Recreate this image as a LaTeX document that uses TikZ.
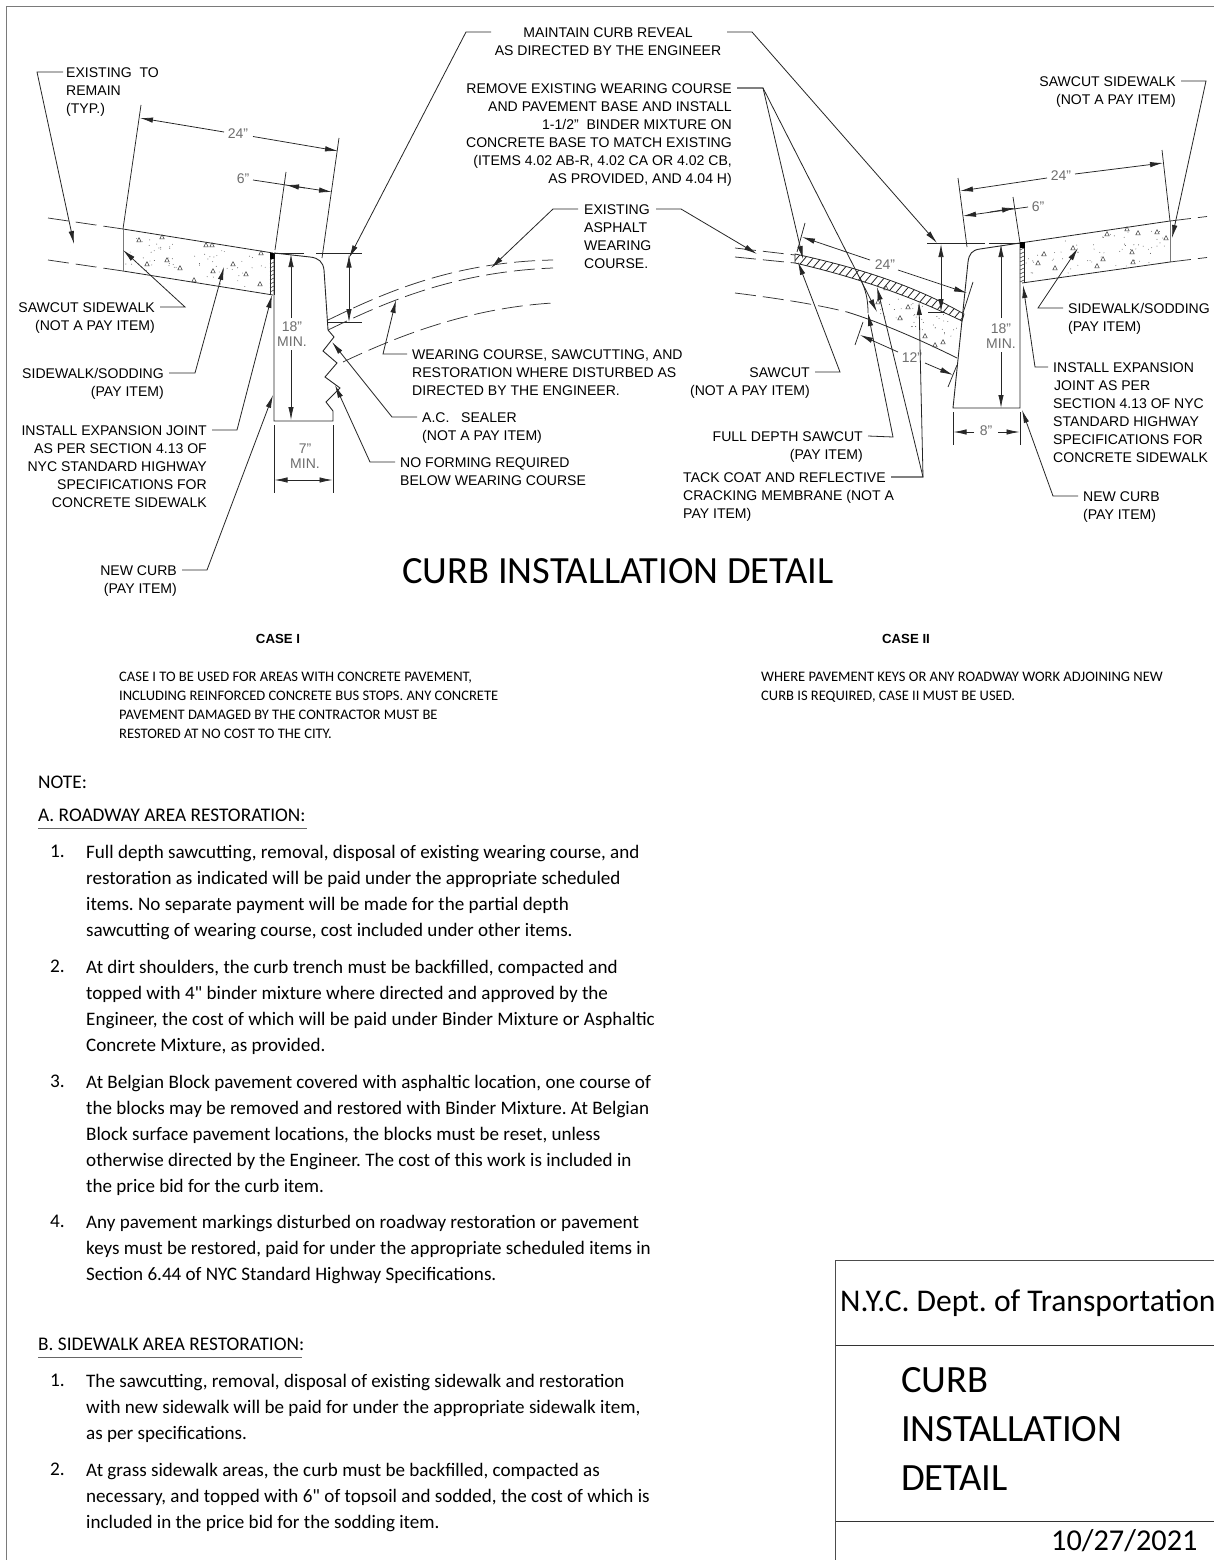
\documentclass[tikz,border=0pt]{standalone}
\usepackage{fontspec}
\setmainfont{Liberation Sans}
\newfontfamily\calib{Carlito}
\usetikzlibrary{arrows.meta}
\frenchspacing
\definecolor{dimgrey}{HTML}{6E6E6E}
\definecolor{framegrey}{HTML}{7A7A7A}
\tikzset{
  >={Latex[length=13pt,width=5.4pt]},
  ln/.style={line width=0.8pt,black!85},
  dimline/.style={line width=0.75pt,black!85},
  greyline/.style={line width=0.9pt,framegrey},
  dashln/.style={line width=0.75pt,black!80,dash pattern=on 21pt off 7pt},
  lab/.style={inner sep=0pt,yshift=-1pt,font=\fontsize{14.05}{18}\selectfont,text=black},
  labl/.style={lab,anchor=north west,align=left},
  labr/.style={lab,anchor=north east,align=right},
  labc/.style={lab,anchor=north,align=center},
  dimtxt/.style={inner sep=0pt,font=\fontsize{14}{16}\selectfont,text=dimgrey,align=center},
  body/.style={inner sep=0pt,anchor=north west,align=left,font=\calib\fontsize{19.08}{26}\selectfont,text=black},
  small/.style={inner sep=0pt,anchor=north west,yshift=-1pt,align=left,font=\calib\fontsize{14.53}{19}\selectfont,text=black},
  head/.style={inner sep=0pt,anchor=north west,font=\calib\fontsize{19.3}{26}\selectfont,text=black},
  casehd/.style={inner sep=0pt,font=\bfseries\fontsize{13.2}{15}\selectfont},
  tb/.style={inner sep=0pt,anchor=west,font=\calib\fontsize{31.6}{40}\selectfont,text=black},
  tbd/.style={inner sep=0pt,anchor=west,font=\calib\fontsize{30.3}{40}\selectfont,text=black},
  tbig/.style={inner sep=0pt,anchor=north west,align=left,font=\calib\fontsize{38.6}{49}\selectfont,text=black},
}
\newcommand{\tri}[2]{\draw[line width=0.5pt,black!75] (#1-2.2,#2+1.8) -- (#1,#2-2.4) -- (#1+2.2,#2+1.8) -- cycle;}
\begin{document}
\begin{tikzpicture}[x=1pt,y=-1pt]
\useasboundingbox (0,0) rectangle (1214,1560);
\fill[white] (0,0) rectangle (1214,1560);
% frame
\draw[greyline] (6,1560) -- (6,6) -- (1214,6);

% ===== CASE I drawing =====
% sidewalk
\draw[ln] (123,229) -- (273,253);
\draw[ln] (123,271) -- (273,295);
\draw[greyline] (123,229) -- (123,271);
\draw[dashln] (48,218) -- (123,229);
\draw[dashln] (48,260) -- (123,271);
\foreach \x/\y in {139/240,162/237,206/245,212/245,261/253,147/264,167/260,180/268,194/280,213/271,233/264,246/274,260/284}{\tri{\x}{\y}}
\pgfmathsetseed{11}
\foreach \i in {1,...,60}{\pgfmathsetmacro\t{rnd}\pgfmathsetmacro\u{rnd}
 \fill[black!70] ({125+145*\t},{234+24*\t+36*\u}) circle (0.45pt);}
% joint
\draw[ln] (270,256) -- (270,295); \draw[ln] (274,253) -- (274,295);
\foreach \y in {260,264,...,294}{\draw[line width=0.5pt,black!80] (270,\y) -- (274,\y-2);}
\fill[black] (270,253) rectangle (275,259);
% curb
\draw[line width=0.9pt,black!85] (274,253) -- (274,421) -- (333,421) -- (333,411) -- (326,402) -- (340,388) -- (325,377) -- (337,363) -- (323,351) -- (334,337) -- (328,330) -- (324,270) .. controls (323,262) and (319,258) .. (310,257) -- (274,253);
% ext lines
\draw[dimline] (274,253) -- (304,253) (316,253) -- (362,253) (328,322) -- (362,322);
\draw[dimline] (274,425) -- (274,493) (333,425) -- (333,493);
% reveal dim
\draw[dimline,->] (349,285) -- (349,254.5);
\draw[dimline,->] (349,285) -- (349,322);
% 18 dim
\draw[dimline,->] (291,318) -- (291,254);
\draw[dimline,->] (291,350) -- (291,420);
\node[dimtxt] (d18a) at (292,334) {18"\\[-0.5pt]MIN.};
% 7 dim
\node[dimtxt] (d7a) at (305,456) {7"\\[-0.5pt]MIN.};
\draw[dimline,<->] (274.5,480) -- (332.5,480);
% 24 dim
\draw[dimline] (123,229) -- (141,105);
\draw[dimline] (322,258) -- (339,138);
\node[dimtxt] (d24a) at (238,134) {24"};
\draw[dimline,->] (224,132) -- (140,118);
\draw[dimline,->] (253,136.5) -- (338,151);
% 6 dim
\draw[dimline] (275,250) -- (286,172);
\node[dimtxt] (d6a) at (243,179) {6"};
\draw[dimline,->] (253,180) -- (332,192);
\draw[dimline,->] (305,188) -- (286,185);
% wearing course curves
\draw[dashln] (328,320) .. controls (380,295) and (450,262) .. (553,260);
\draw[dashln] (328,330) .. controls (380,305) and (450,272) .. (553,268);
\draw[dashln] (343,362) .. controls (400,335) and (470,308) .. (553,303);

% ===== CASE II drawing =====
% pavement
\draw[dashln] (735,248) -- (795,255);
\draw[dashln] (735,257) -- (795,263);
\draw[dashln] (735,293) .. controls (775,298) and (815,304) .. (847,312);
\draw[ln] (847,312) .. controls (880,322) and (925,342) .. (957,358);
% slab
\begin{scope}
\clip (795,254) .. controls (860,268) and (915,286) .. (964,314) -- (962,321) .. controls (915,298) and (860,278) .. (795,263) -- cycle;
\foreach \x in {720,728,...,970}{\draw[line width=0.8pt,black!85] (\x,330) -- (\x+85,230) ;}
\end{scope}
\draw[line width=0.8pt,black!85] (795,254) .. controls (860,268) and (915,286) .. (964,314) -- (962,321) .. controls (915,298) and (860,278) .. (795,263) -- cycle;
% sawcut
\draw[ln] (860,278) .. controls (866,290) and (868,300) .. (868,313);
% stipple
\foreach \x/\y in {886/288,878/302,908/307,900/318,925/336,943/342,935/345}{\tri{\x}{\y}}
\pgfmathsetseed{23}
\foreach \i in {1,...,40}{\pgfmathsetmacro\t{rnd}\pgfmathsetmacro\u{rnd}
 \fill[black!70] ({880+78*\t},{293+24*\t+24*\u}) circle (0.45pt);}
% curb
\draw[line width=0.9pt,black!85] (1020,243) -- (1020,408) -- (953,408) -- (968,262) .. controls (969,254) and (972,250) .. (980,249) -- (1020,243);
\draw[dimline] (927,243) -- (985,243) (989,243) -- (1020,243);
\draw[dimline] (928,312) -- (945,312);
% reveal dim
\draw[dimline,<->] (941,244) -- (941,312);
% 18 dim
\draw[dimline,->] (1001,318) -- (1001,244);
\draw[dimline,->] (1001,352) -- (1001,408);
\node[dimtxt] (d18b) at (1001,336) {18"\\[-0.5pt]MIN.};
% 8 dim
\draw[dimline] (953,412) -- (953,445) (1020,412) -- (1020,445);
\node[dimtxt] (d8) at (986,431) {8"};
\draw[dimline,->] (974,432) -- (953.5,432);
\draw[dimline,->] (998,432) -- (1019.5,432);
% sidewalk
\draw[ln] (1020,243) -- (1170,221);
\draw[ln] (1022,283) -- (1170,262);
\draw[greyline] (1170,221) -- (1170,262);
\draw[dashln] (1170,221) -- (1207,216.5);
\draw[dashln] (1170,262) -- (1207,257.5);
\draw[ln] (1024,244) -- (1024,283);
\foreach \y in {250,254,...,282}{\draw[line width=0.5pt,black!80] (1020,\y) -- (1024,\y-2);}
\fill[black] (1020,242) rectangle (1025,248);
\foreach \x/\y in {1044/254,1055/268,1038/263,1073/248,1107/234,1127/229,1138/233,1157/232,1166/238,1103/259,1097/266,1132/252,1133/262}{\tri{\x}{\y}}
\pgfmathsetseed{37}
\foreach \i in {1,...,60}{\pgfmathsetmacro\t{rnd}\pgfmathsetmacro\u{rnd}
 \fill[black!70] ({1026+142*\t},{246-21*\t+36*\u}) circle (0.45pt);}
% 24 top dim
\draw[dimline] (958,178) -- (967,247);
\draw[dimline] (1162,150) -- (1170,221);
\node[dimtxt] (d24b) at (1061,176) {24"};
\draw[dimline,->] (1047,178) -- (960,191);
\draw[dimline,->] (1075,174) -- (1163,163);
% 6 top dim
\draw[dimline] (1013,197) -- (1020,243);
\node[dimtxt] (d6b) at (1038,207) {6"};
\draw[dimline,->] (1028,207) -- (963,216);
\draw[dimline,->] (990,212) -- (1015,208);
% 24 incl dim
\draw[dimline] (805,223) -- (797,252);
\draw[dimline] (973,282) -- (963,313);
\node[dimtxt] (d24c) at (885,265) {24"};
\draw[dimline,->] (870,260) -- (802,237);
\draw[dimline,->] (898,270) -- (967,293);
% 12 dim
\draw[dimline] (863,322) -- (855,345);
\draw[dimline] (957,365) -- (948,387);
\node[dimtxt] (d12) at (912,358) {12"};
\draw[dimline,->] (898,352) -- (860,335);
\draw[dimline,->] (925,363) -- (953,375);

% ===== labels and leaders =====
\node[labl] (exist) at (66,66) {EXISTING\ \ TO\\REMAIN\\(TYP.)};
\draw[ln,->] ([shift={(-3,5)}]exist.north west) -- (37,72) -- (74,244);

\node[labc] (maintain) at (608,26) {MAINTAIN CURB REVEAL\\AS DIRECTED BY THE ENGINEER};
\draw[ln,->] (491,32) -- (466,32) -- (349,258);
\draw[ln,->] (727,32) -- (752,32) -- (937,243);

\node[labr] (remove) at (732,82) {REMOVE EXISTING WEARING COURSE\\AND PAVEMENT BASE AND INSTALL\\1-1/2"\ \ BINDER MIXTURE ON\\CONCRETE BASE TO MATCH EXISTING\\(ITEMS 4.02 AB-R, 4.02 CA OR 4.02 CB,\\AS PROVIDED, AND 4.04 H)};
\draw[ln,->] ([shift={(5,5)}]remove.north east) -- (763,88) -- (803,259);
\draw[ln,->] ([shift={(5,5)}]remove.north east) -- (763,88) -- (877,312);

\node[labl] (asph) at (584,203) {EXISTING\\ASPHALT\\WEARING\\COURSE.};
\draw[ln,->] ([shift={(-6,5)}]asph.north west) -- (553,209) -- (491,268);
\draw[ln,->] (656,209) -- (681,209) -- (757,254);

\node[labr] (sawl) at (155,301) {SAWCUT SIDEWALK\\(NOT A PAY ITEM)};
\draw[ln,->] ([shift={(5,5)}]sawl.north east) -- (185,307) -- (123,250);

\node[labr] (sodl) at (164,367) {SIDEWALK/SODDING\\(PAY ITEM)};
\draw[ln,->] ([shift={(5,5)}]sodl.north east) -- (195,373) -- (224,267);

\node[labr] (expl) at (207,424) {INSTALL EXPANSION JOINT\\AS PER SECTION 4.13 OF\\NYC STANDARD HIGHWAY\\SPECIFICATIONS FOR\\CONCRETE SIDEWALK};
\draw[ln,->] ([shift={(5,5)}]expl.north east) -- (237,430) -- (272,295);

\node[labr] (curbl) at (177,564) {NEW CURB\\(PAY ITEM)};
\draw[ln,->] ([shift={(5,5)}]curbl.north east) -- (207,570) -- (273,395);

\node[labl] (wear) at (412,348) {WEARING COURSE, SAWCUTTING, AND\\RESTORATION WHERE DISTURBED AS\\DIRECTED BY THE ENGINEER.};
\draw[ln,->] ([shift={(-5,5)}]wear.north west) -- (383,354) -- (396,300);

\node[labl] (acs) at (422,411) {A.C.\ \ \ SEALER\\(NOT A PAY ITEM)};
\draw[ln,->] ([shift={(-5,5)}]acs.north west) -- (392,417) -- (332,342);

\node[labl] (nof) at (400,456) {NO FORMING REQUIRED\\BELOW WEARING COURSE};
\draw[ln,->] ([shift={(-5,5)}]nof.north west) -- (370,462) -- (335,385);

\node[labr] (sawr) at (1176,75) {SAWCUT SIDEWALK\\(NOT A PAY ITEM)};
\draw[ln,->] ([shift={(5,5)}]sawr.north east) -- (1206,81) -- (1172,238);

\node[labl] (sodr) at (1068,302) {SIDEWALK/SODDING\\(PAY ITEM)};
\draw[ln,->] ([shift={(-5,5)}]sodr.north west) -- (1038,308) -- (1078,248);

\node[labl] (expr) at (1053,361) {INSTALL EXPANSION\\\hspace*{1pt}JOINT AS PER\\SECTION 4.13 OF NYC\\STANDARD HIGHWAY\\SPECIFICATIONS FOR\\CONCRETE SIDEWALK};
\draw[ln,->] ([shift={(-5,5)}]expr.north west) -- (1035,367) -- (1023,285);

\node[labl] (curbr) at (1083,490) {NEW CURB\\(PAY ITEM)};
\draw[ln,->] ([shift={(-5,5)}]curbr.north west) -- (1053,496) -- (1022,410);

\node[labr] (sawc) at (810,366) {SAWCUT\\(NOT A PAY ITEM)};
\draw[ln,->] ([shift={(5,5)}]sawc.north east) -- (840,372) -- (798,262);

\node[labr] (full) at (863,430) {FULL DEPTH SAWCUT\\(PAY ITEM)};
\draw[ln,->] ([shift={(5,5)}]full.north east) -- (893,437) -- (868,313);

\node[labl] (tack) at (683,471) {TACK COAT AND REFLECTIVE\\CRACKING MEMBRANE (NOT A\\PAY ITEM)};
\draw[ln,->] (891,477) -- (923,477) -- (877,287);
\draw[ln,->] (891,477) -- (923,477) -- (919,302);

% ===== title and text =====
\node[inner sep=0pt,font=\calib\fontsize{38.5}{42}\selectfont,text=black] (title) at (618,571) {CURB INSTALLATION DETAIL};
\node[casehd] (case1) at (278,639) {CASE I};
\node[casehd] (case2) at (906,639) {CASE II};
\node[small] (c1txt) at (119,671) {CASE I TO BE USED FOR AREAS WITH CONCRETE PAVEMENT,\\INCLUDING REINFORCED CONCRETE BUS STOPS. ANY CONCRETE\\PAVEMENT DAMAGED BY THE CONTRACTOR MUST BE\\RESTORED AT NO COST TO THE CITY.};
\node[small] (c2txt) at (761,671) {WHERE PAVEMENT KEYS OR ANY ROADWAY WORK ADJOINING NEW\\CURB IS REQUIRED, CASE II MUST BE USED.};
\node[head] (note) at (38,776) {NOTE:};
\node[head] (ah) at (38,809) {A. ROADWAY AREA RESTORATION:};
\draw[line width=0.9pt,black!60] (38,828) -- (307,828);

\node[head] (a1n) at (50,845) {1.};
\node[body] (a1) at (86,845) {Full depth sawcutting, removal, disposal of existing wearing course, and\\restoration as indicated will be paid under the appropriate scheduled\\items. No separate payment will be made for the partial depth\\sawcutting of wearing course, cost included under other items.};
\node[head] (a2n) at (50,960) {2.};
\node[body] (a2) at (86,960) {At dirt shoulders, the curb trench must be backfilled, compacted and\\topped with 4" binder mixture where directed and approved by the\\Engineer, the cost of which will be paid under Binder Mixture or Asphaltic\\Concrete Mixture, as provided.};
\node[head] (a3n) at (50,1075) {3.};
\node[body] (a3) at (86,1075) {At Belgian Block pavement covered with asphaltic location, one course of\\the blocks may be removed and restored with Binder Mixture. At Belgian\\Block surface pavement locations, the blocks must be reset, unless\\otherwise directed by the Engineer. The cost of this work is included in\\the price bid for the curb item.};
\node[head] (a4n) at (50,1215) {4.};
\node[body] (a4) at (86,1215) {Any pavement markings disturbed on roadway restoration or pavement\\keys must be restored, paid for under the appropriate scheduled items in\\Section 6.44 of NYC Standard Highway Specifications.};

\node[head] (bh) at (38,1338) {B. SIDEWALK AREA RESTORATION:};
\draw[line width=0.9pt,black!60] (38,1357) -- (302,1357);
\node[head] (b1n) at (50,1374) {1.};
\node[body] (b1) at (86,1374) {The sawcutting, removal, disposal of existing sidewalk and restoration\\with new sidewalk will be paid for under the appropriate sidewalk item,\\as per specifications.};
\node[head] (b2n) at (50,1463) {2.};
\node[body] (b2) at (86,1463) {At grass sidewalk areas, the curb must be backfilled, compacted as\\necessary, and topped with 6" of topsoil and sodded, the cost of which is\\included in the price bid for the sodding item.};

% title block
\draw[line width=0.8pt,black!70] (1214,1260.5) -- (835.5,1260.5) -- (835.5,1560);
\draw[line width=0.8pt,black!80] (835.5,1345.5) -- (1214,1345.5);
\draw[line width=0.8pt,black!80] (835.5,1521.5) -- (1214,1521.5);
\node[tb] (dot) at (840,1303) {N.Y.C. Dept. of Transportation};
\node[tbig] (tbt) at (901,1367) {CURB\\INSTALLATION\\DETAIL};
\node[tbd] (date) at (1051,1541) {10/27/2021};
\end{tikzpicture}
\end{document}
